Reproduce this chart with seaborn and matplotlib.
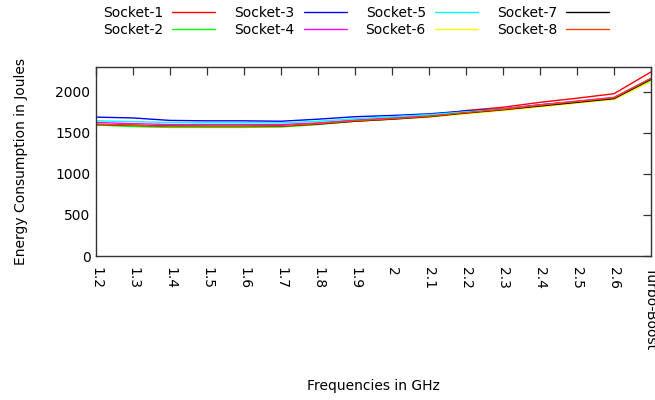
import numpy as np
import pandas as pd
import matplotlib
matplotlib.use("Agg")
import matplotlib.pyplot as plt
import seaborn as sns

frequencies = ["1.2", "1.3", "1.4", "1.5", "1.6", "1.7", "1.8", "1.9", "2",
               "2.1", "2.2", "2.3", "2.4", "2.5", "2.6", "Turbo-Boost"]

socket_1 = [1600, 1590, 1580, 1580, 1580, 1585, 1610, 1650, 1680, 1710, 1770, 1810, 1870, 1920, 1975, 2240]
socket_2 = [1595, 1575, 1565, 1565, 1565, 1570, 1600, 1640, 1670, 1700, 1740, 1780, 1830, 1875, 1920, 2150]
socket_3 = [1690, 1680, 1650, 1645, 1645, 1640, 1665, 1695, 1710, 1730, 1765, 1790, 1840, 1880, 1925, 2160]
socket_4 = [1625, 1610, 1600, 1600, 1600, 1600, 1620, 1655, 1680, 1710, 1750, 1790, 1840, 1885, 1930, 2160]
socket_5 = [1645, 1635, 1625, 1622, 1622, 1620, 1640, 1670, 1695, 1720, 1755, 1785, 1830, 1875, 1915, 2130]
socket_6 = [1600, 1590, 1580, 1580, 1580, 1580, 1605, 1640, 1665, 1690, 1730, 1770, 1815, 1860, 1905, 2125]
socket_7 = [1600, 1590, 1580, 1578, 1578, 1580, 1605, 1640, 1665, 1695, 1740, 1780, 1825, 1870, 1915, 2150]
socket_8 = [1605, 1590, 1578, 1578, 1578, 1582, 1610, 1645, 1670, 1700, 1745, 1785, 1835, 1880, 1925, 2160]

series_names = [f"Socket-{i}" for i in range(1, 9)]
series_values = [socket_1, socket_2, socket_3, socket_4,
                 socket_5, socket_6, socket_7, socket_8]
colors = ["#ff0000", "#00ff00", "#0000ff", "#ff00ff",
          "#00ffff", "#ffff00", "#000000", "#ff4500"]

rows = []
for name, vals in zip(series_names, series_values):
    for i, v in enumerate(vals):
        rows.append({"idx": i, "energy": v, "socket": name})
df = pd.DataFrame(rows)

sns.set_theme(style="white")
plt.rcParams["font.family"] = ["DejaVu Sans"]
plt.rcParams["font.size"] = 10
plt.rcParams["text.color"] = "black"
plt.rcParams["axes.labelcolor"] = "black"
plt.rcParams["xtick.color"] = "black"
plt.rcParams["ytick.color"] = "black"

fig = plt.figure(figsize=(6.55, 4.0), dpi=100)
ax = fig.add_axes([96 / 655, 1 - 256 / 400, (651 - 96) / 655, (256 - 67) / 400])

sns.lineplot(data=df, x="idx", y="energy", hue="socket", hue_order=series_names,
             palette=dict(zip(series_names, colors)), linewidth=1.0,
             ax=ax, legend=False)

ax.set_xlim(0, len(frequencies) - 1)
ax.set_ylim(0, 2300)
ax.set_xticks(range(len(frequencies)))
ax.set_xticklabels(frequencies, rotation=270, ha="center", va="top", fontsize=10)
ax.set_yticks([0, 500, 1000, 1500, 2000])
ax.tick_params(axis="both", which="both", direction="in", length=6, width=0.9,
               color="#333333", labelcolor="black", top=True, right=True,
               labelsize=10, pad=4)
ax.tick_params(axis="x", pad=8)
for s in ax.spines.values():
    s.set_color("#333333")
    s.set_linewidth(1.0)

ax.set_ylabel("Energy Consumption in Joules", fontsize=10, color="black")
ax.yaxis.set_label_coords(-0.122, 0.5)
ax.set_xlabel("Frequencies in GHz", fontsize=10, color="black")
ax.xaxis.set_label_coords(0.5, -0.65)

handles = [plt.Line2D([], [], color=c, linewidth=1.0) for c in colors]
fig.legend(handles, series_names, loc="upper left",
           bbox_to_anchor=(103 / 655, 1 - 6 / 400), ncol=4, frameon=False,
           markerfirst=False, handlelength=3.1, handletextpad=0.65,
           columnspacing=1.37, labelspacing=0.2, borderpad=0, borderaxespad=0,
           fontsize=10, labelcolor="black")

fig.savefig("out.png", dpi=100)
